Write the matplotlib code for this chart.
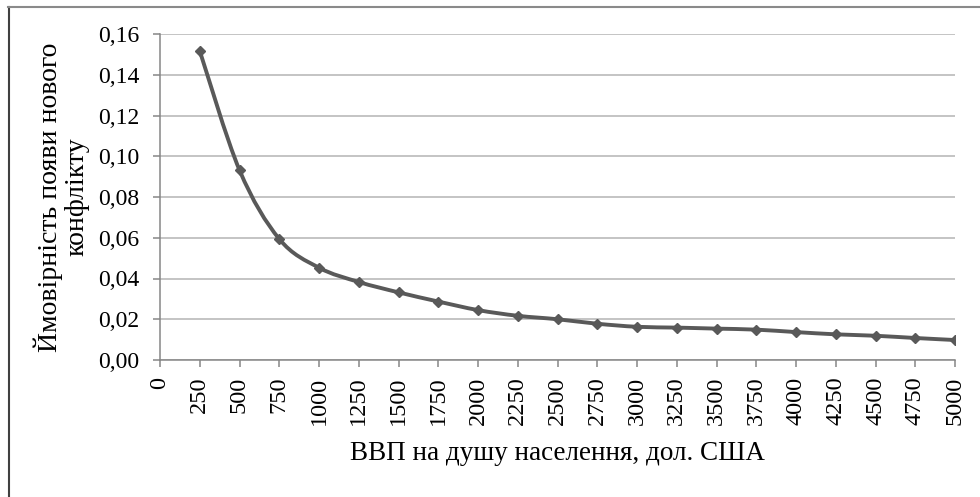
import numpy as np
import matplotlib.pyplot as plt
from matplotlib.path import Path
from matplotlib.patches import PathPatch
from matplotlib.lines import Line2D

plt.rcParams["font.family"] = ["Liberation Serif", "DejaVu Serif"]

# categories on the x axis (0 has no value)
gdp_labels = ["0", "250", "500", "750", "1000", "1250", "1500", "1750", "2000",
              "2250", "2500", "2750", "3000", "3250", "3500", "3750", "4000",
              "4250", "4500", "4750", "5000"]
# probability of a new conflict, for 250..5000
prob = [0.1517, 0.0932, 0.0594, 0.0453, 0.0383, 0.0332, 0.0287, 0.0245,
        0.0217, 0.0200, 0.0178, 0.0163, 0.0159, 0.0154, 0.0149, 0.0137,
        0.0126, 0.0119, 0.0108, 0.0098]
y_ticks = [0.00, 0.02, 0.04, 0.06, 0.08, 0.10, 0.12, 0.14, 0.16]

line_col = "#595959"
axis_col = "#868686"
grid_col = "#b4b4b4"

fig = plt.figure(figsize=(9.8, 4.97), dpi=100)
ax = fig.add_axes([160 / 980, 1 - 360 / 497, 795 / 980, 326 / 497])

xs = np.arange(1, len(prob) + 1, dtype=float)
ys = np.array(prob)

# excel-like smoothed line (catmull-rom -> bezier)
verts = [(xs[0], ys[0])]
codes = [Path.MOVETO]
n = len(xs)
for i in range(n - 1):
    p0 = np.array([xs[max(i - 1, 0)], ys[max(i - 1, 0)]])
    p1 = np.array([xs[i], ys[i]])
    p2 = np.array([xs[i + 1], ys[i + 1]])
    p3 = np.array([xs[min(i + 2, n - 1)], ys[min(i + 2, n - 1)]])
    c1 = p1 + (p2 - p0) / 6
    c2 = p2 - (p3 - p1) / 6
    verts += [tuple(c1), tuple(c2), tuple(p2)]
    codes += [Path.CURVE4] * 3
ax.add_patch(PathPatch(Path(verts, codes), fill=False, edgecolor=line_col,
                       lw=2.8, capstyle="round", joinstyle="round", zorder=3))
ax.plot(xs, ys, ls="none", marker="D", ms=5, color=line_col, zorder=4)

ax.set_xlim(0, 20)
ax.set_ylim(0, 0.16)
ax.set_xticks(range(len(gdp_labels)))
ax.set_xticklabels(gdp_labels, rotation=90)
ax.set_yticks(y_ticks)
ax.set_yticklabels([f"{v:.2f}".replace(".", ",") for v in y_ticks])

ax.grid(axis="y", color=grid_col, lw=1.1)
ax.set_axisbelow(True)
for s in ["top", "right"]:
    ax.spines[s].set_visible(False)
for s in ["left", "bottom"]:
    ax.spines[s].set_color(axis_col)
    ax.spines[s].set_linewidth(1.1)
ax.tick_params(axis="both", direction="out", length=5, width=1.1,
               color=axis_col)
ax.tick_params(axis="y", labelsize=17, pad=10)
ax.tick_params(axis="x", labelsize=17.5, pad=7)

ax.set_xlabel("ВВП на душу населення, дол. США", fontsize=19.5, labelpad=11)
ax.set_ylabel("Ймовірність появи нового\nконфлікту", fontsize=20,
              labelpad=6, linespacing=1.1)

# outer chart frame (only left and top edges are in the picture)
fig.add_artist(Line2D([8.5 / 980, 8.5 / 980], [0, 1 - 7 / 497],
                      transform=fig.transFigure, color="#404040", lw=1.5))
fig.add_artist(Line2D([8 / 980, 1], [1 - 7 / 497, 1 - 7 / 497],
                      transform=fig.transFigure, color="#8a8a8a", lw=1.5))

fig.savefig("out.png", dpi=100, facecolor="white")
